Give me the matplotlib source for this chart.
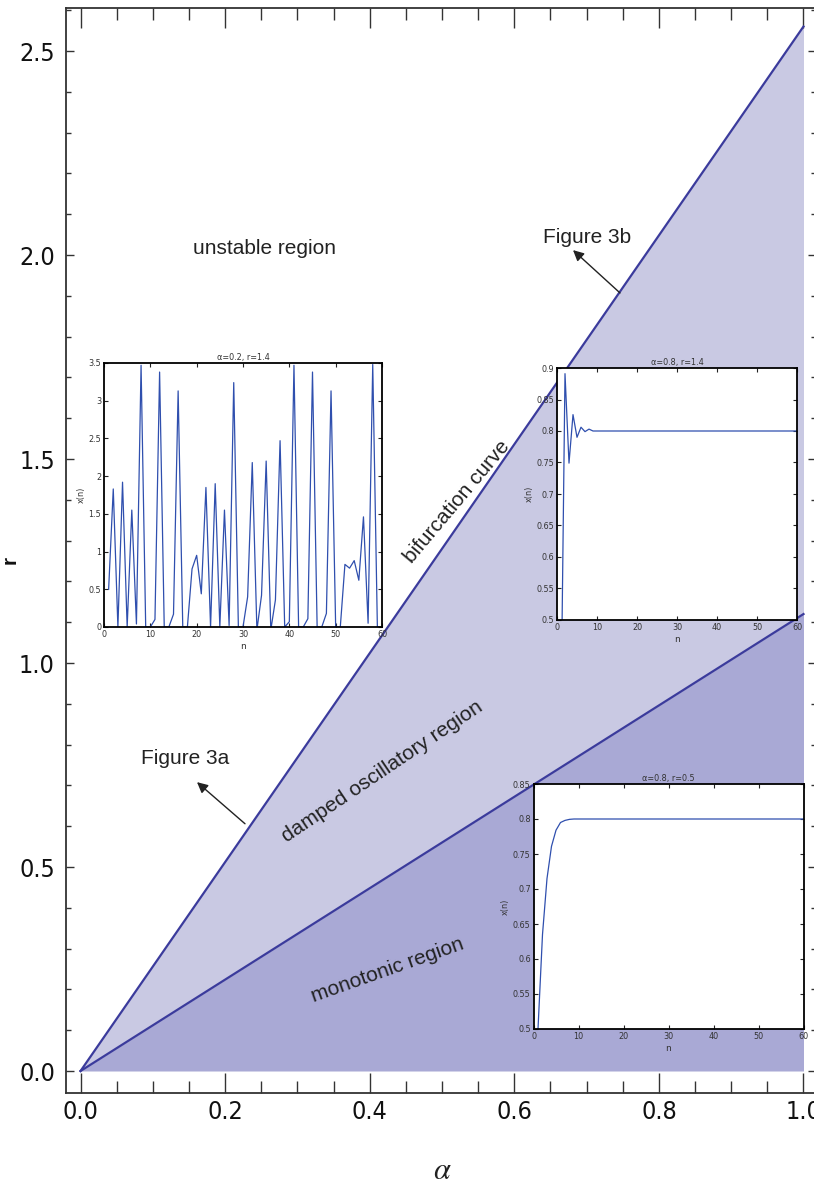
import matplotlib
matplotlib.use('Agg')
import matplotlib.pyplot as plt
from matplotlib.ticker import MultipleLocator, FormatStrFormatter

# ---------------- data ----------------
alpha_vals = [0.0, 1.0]
bifurcation_r = [0.0, 2.56]      # upper boundary (bifurcation curve)
monotonic_r = [0.0, 1.12]        # boundary between monotonic / damped oscillatory

x_ticks = [0.0, 0.2, 0.4, 0.6, 0.8, 1.0]
r_ticks = [0.0, 0.5, 1.0, 1.5, 2.0, 2.5]

# inset a: alpha=0.2, r=1.4 (chaotic)
n_a = list(range(1, 61))
x_a = [0.5, 1.83, 0.0, 1.92, 0.0, 1.55, 0.04, 3.47, 0.0, 0.0,
       0.1, 3.38, 0.0, 0.0, 0.17, 3.13, 0.0, 0.0, 0.77, 0.95,
       0.44, 1.85, 0.0, 1.90, 0.0, 1.55, 0.02, 3.24, 0.0, 0.0,
       0.4, 2.18, -0.04, 0.42, 2.2, -0.04, 0.36, 2.47, 0.0, 0.07,
       3.47, 0.0, 0.0, 0.11, 3.38, 0.0, 0.0, 0.18, 3.13, 0.0,
       0.0, 0.83, 0.78, 0.88, 0.62, 1.46, 0.05, 3.48, 0.0, 0.0]

# inset b: alpha=0.8, r=1.4 (damped oscillation)
n_b = list(range(1, 61))
x_b = [0.35, 0.891, 0.749, 0.826, 0.79, 0.806, 0.799, 0.803, 0.8] + [0.8] * 51

# inset c: alpha=0.8, r=0.5 (monotonic)
n_c = list(range(1, 61))
x_c = [0.5, 0.635, 0.715, 0.761, 0.784, 0.795, 0.798, 0.7995, 0.8] + [0.8] * 51

# ---------------- style ----------------
SANS = ['Liberation Sans', 'DejaVu Sans']
plt.rcParams['mathtext.fontset'] = 'stix'

LIGHT = '#c9c9e3'
DARK = '#a9a9d5'
LINE = '#3b3b9c'
INSET_LINE = '#2f4fae'

W, H = 814, 1187
fig = plt.figure(figsize=(W / 100, H / 100), dpi=100)

def fr(l, r, t, b):
    return [l / W, 1 - b / H, (r - l) / W, (b - t) / H]

ax = fig.add_axes(fr(66, 816, 8, 1093))
ax.fill_between(alpha_vals, monotonic_r, bifurcation_r, color=LIGHT, lw=0, zorder=1)
ax.fill_between(alpha_vals, [0, 0], monotonic_r, color=DARK, lw=0, zorder=1)
ax.plot(alpha_vals, bifurcation_r, color=LINE, lw=1.6, zorder=2)
ax.plot(alpha_vals, monotonic_r, color=LINE, lw=1.6, zorder=2)

ax.set_xlim(-0.0201, 1.0173)
ax.set_ylim(-0.0539, 2.6054)
ax.set_xticks(x_ticks)
ax.set_yticks(r_ticks)
ax.xaxis.set_minor_locator(MultipleLocator(0.05))
ax.yaxis.set_minor_locator(MultipleLocator(0.1))
ax.xaxis.set_major_formatter(FormatStrFormatter('%.1f'))
ax.yaxis.set_major_formatter(FormatStrFormatter('%.1f'))
for sp in ax.spines.values():
    sp.set_color('#333333')
    sp.set_linewidth(1.3)
ax.tick_params(axis='x', which='major', direction='in', length=14.4, width=1,
               top=True, bottom=True, colors='#333333', labelcolor='#111111', pad=5)
ax.tick_params(axis='x', which='minor', direction='in', length=8.6, width=1,
               top=True, bottom=True, colors='#333333')
ax.tick_params(axis='y', which='major', direction='in', length=6, width=1,
               left=True, right=True, colors='#333333', labelcolor='#111111', pad=8)
ax.tick_params(axis='y', which='minor', direction='in', length=3.6, width=1,
               left=True, right=True, colors='#333333')
for lab in ax.get_xticklabels() + ax.get_yticklabels():
    lab.set_family('DejaVu Sans')
    lab.set_stretch('condensed')
    lab.set_fontsize(18)

ax.set_xlabel(r'$\alpha$', fontsize=22, color='#222222')
ax.xaxis.set_label_coords(0.5013, -0.058)
ax.set_ylabel('r', fontsize=15, fontweight='bold', family=SANS, color='#111111')
ax.yaxis.set_label_coords(-0.0613, 0.491)

txt = dict(family=SANS, fontsize=15, color='#222222', ha='center', va='center', zorder=3)
ax.text(0.2538, 2.017, 'unstable region', **txt)
ax.text(0.1445, 0.767, 'Figure 3a', **txt)
ax.text(0.7005, 2.044, 'Figure 3b', **txt)
ax.text(0.521, 1.395, 'bifurcation curve', rotation=50, rotation_mode='anchor', **txt)
ax.text(0.417, 0.735, 'damped oscillatory region', rotation=34, rotation_mode='anchor', **txt)
ax.text(0.4253, 0.2475, 'monotonic region', rotation=19.5, rotation_mode='anchor', **txt)

arrow = dict(arrowstyle='-|>', color='#222222', lw=1.0, mutation_scale=16, shrinkA=0, shrinkB=0)
ax.annotate('', xy=(0.1611, 0.708), xytext=(0.2275, 0.606), arrowprops=arrow, zorder=3)
ax.annotate('', xy=(0.6812, 2.012), xytext=(0.7462, 1.907), arrowprops=arrow, zorder=3)

# ---------------- insets ----------------
def inset(rect, n, x, ylim, yticks, ylabels, title):
    a = fig.add_axes(rect)
    a.set_facecolor('white')
    a.plot(n, x, color=INSET_LINE, lw=0.9)
    a.set_xlim(0, 60)
    a.set_ylim(*ylim)
    a.set_xticks([0, 10, 20, 30, 40, 50, 60])
    a.set_yticks(yticks)
    a.set_yticklabels(ylabels)
    a.tick_params(direction='in', length=3, width=0.8, top=True, right=True,
                  labelsize=6.5, colors='#222222', labelcolor='#333333', pad=2)
    for lab in a.get_xticklabels() + a.get_yticklabels():
        lab.set_family('DejaVu Sans')
        lab.set_stretch('condensed')
    for sp in a.spines.values():
        sp.set_color('black')
        sp.set_linewidth(1.3)
    a.set_title(title, fontsize=6.5, family='DejaVu Sans', stretch='condensed', color='#333333', pad=2)
    a.set_xlabel('n', fontsize=6.5, family='DejaVu Sans', color='#333333', labelpad=2)
    a.set_ylabel('x(n)', fontsize=6.5, family='DejaVu Sans', stretch='condensed', color='#333333', labelpad=2)
    return a

inset(fr(104, 382, 363, 627), n_a, x_a, (0, 3.5),
      [0, 0.5, 1, 1.5, 2, 2.5, 3, 3.5],
      ['0', '0.5', '1', '1.5', '2', '2.5', '3', '3.5'], 'α=0.2, r=1.4')
inset(fr(557, 797, 368, 620), n_b, x_b, (0.5, 0.9),
      [0.5, 0.55, 0.6, 0.65, 0.7, 0.75, 0.8, 0.85, 0.9],
      ['0.5', '0.55', '0.6', '0.65', '0.7', '0.75', '0.8', '0.85', '0.9'], 'α=0.8, r=1.4')
inset(fr(533.5, 803.5, 784, 1029), n_c, x_c, (0.5, 0.85),
      [0.5, 0.55, 0.6, 0.65, 0.7, 0.75, 0.8, 0.85],
      ['0.5', '0.55', '0.6', '0.65', '0.7', '0.75', '0.8', '0.85'], 'α=0.8, r=0.5')

fig.savefig('out.png', dpi=100)
